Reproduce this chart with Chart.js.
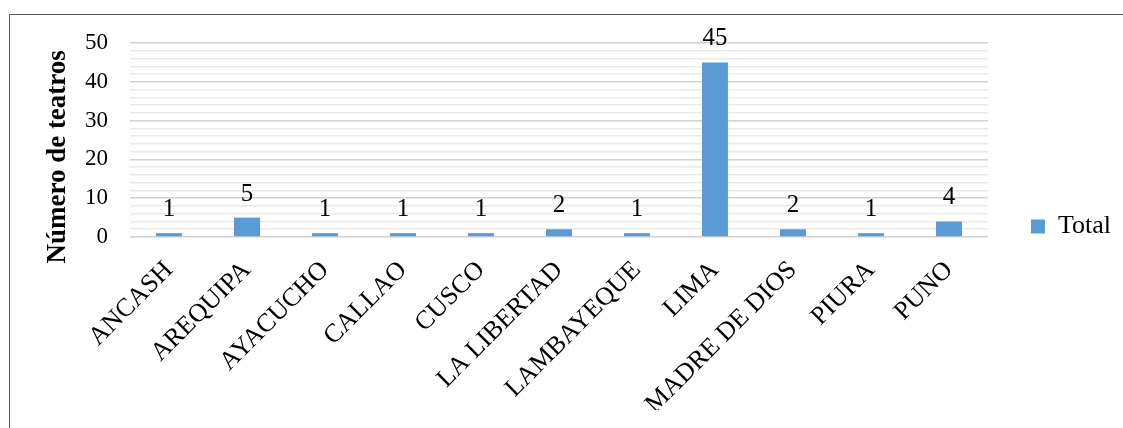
<!DOCTYPE html>
<html>
<head>
<meta charset="utf-8">
<script src="https://cdn.jsdelivr.net/npm/chart.js@4.4.1/dist/chart.umd.min.js"></script>
<style>
  html, body { margin: 0; padding: 0; background: #ffffff; }
  #wrap { position: relative; width: 1123px; height: 428px; overflow: hidden; }
  #frame { position: absolute; left: 9px; top: 14px; width: 1200px; height: 600px;
           border: 1px solid #595959; box-sizing: border-box; pointer-events: none; }
  canvas { position: absolute; left: 0; top: 0; }
</style>
</head>
<body>
<div id="wrap">
  <canvas id="chart" width="1123" height="428"></canvas>
  <div id="frame"></div>
</div>
<script>
// Teatros por departamento
const categories = ['ANCASH', 'AREQUIPA', 'AYACUCHO', 'CALLAO', 'CUSCO', 'LA LIBERTAD',
                    'LAMBAYEQUE', 'LIMA', 'MADRE DE DIOS', 'PIURA', 'PUNO'];
const totals = [1, 5, 1, 1, 1, 2, 1, 45, 2, 1, 4];
const seriesName = 'Total';
const yTitle = 'Número de teatros';
const yMin = 0;
const yMax = 50;
const yMinorStep = 2;
const yMajorStep = 10;

const SERIF = '"Liberation Serif", "Times New Roman", serif';

// Value labels above each bar
const valueLabels = {
  id: 'valueLabels',
  afterDatasetsDraw(chart) {
    const ctx = chart.ctx;
    const meta = chart.getDatasetMeta(0);
    const data = chart.data.datasets[0].data;
    ctx.save();
    ctx.font = '25px ' + SERIF;
    ctx.fillStyle = '#000000';
    ctx.textAlign = 'center';
    ctx.textBaseline = 'alphabetic';
    meta.data.forEach((bar, i) => {
      ctx.fillText(String(data[i]), bar.x, bar.y - 17);
    });
    ctx.restore();
  }
};

new Chart(document.getElementById('chart'), {
  type: 'bar',
  data: {
    labels: categories,
    datasets: [{
      label: seriesName,
      data: totals,
      backgroundColor: '#5b9bd5',
      borderWidth: 0,
      categoryPercentage: 1,
      barPercentage: 0.333
    }]
  },
  options: {
    responsive: false,
    animation: false,
    events: [],
    layout: { padding: { top: 43, left: 0, right: 2, bottom: 18 } },
    plugins: {
      tooltip: { enabled: false },
      legend: {
        position: 'right',
        labels: {
          font: { family: SERIF, size: 26 },
          color: '#000000',
          boxWidth: 14,
          boxHeight: 14,
          padding: 43
        }
      }
    },
    scales: {
      x: {
        grid: { display: false },
        border: { display: false },
        ticks: {
          font: { family: SERIF, size: 26 },
          color: '#000000',
          maxRotation: 45,
          minRotation: 45,
          autoSkip: false,
          padding: 10,
          labelOffset: 0
        },
        afterFit(scale) { scale.height = 173; }
      },
      y: {
        min: yMin,
        max: yMax,
        border: { display: false },
        grid: {
          drawTicks: false,
          color: (c) => (c.tick && c.tick.value % yMajorStep === 0) ? '#d2d2d2' : '#e9e9e9',
          lineWidth: 1.5
        },
        ticks: {
          stepSize: yMinorStep,
          autoSkip: false,
          padding: 22,
          font: { family: SERIF, size: 23 },
          color: '#000000',
          callback: (v) => (v % yMajorStep === 0 ? String(v) : '')
        },
        title: {
          display: true,
          text: yTitle + '\u00a0'.repeat(5),
          font: { family: SERIF, size: 27, weight: 'bold' },
          color: '#000000',
          padding: { top: 42, bottom: 0 }
        },
        afterFit(scale) { scale.width = 130; }
      }
    }
  },
  plugins: [valueLabels]
});
</script>
</body>
</html>
